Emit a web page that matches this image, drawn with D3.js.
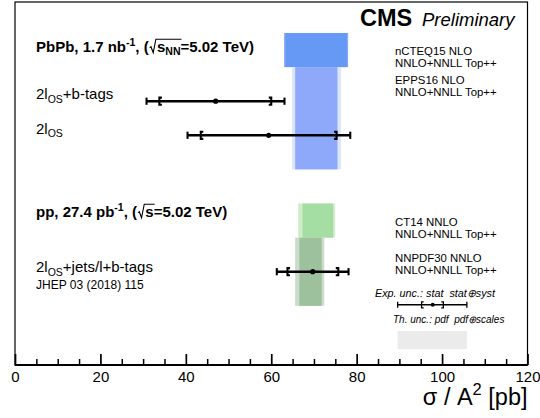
<!DOCTYPE html>
<html>
<head>
<meta charset="utf-8">
<script src="https://cdn.jsdelivr.net/npm/d3@7"></script>
<style>
  body { margin: 0; background: #fff; }
  text { font-family: "Liberation Sans", Arial, Helvetica, sans-serif; fill: #000; white-space: pre; }
</style>
</head>
<body>
<script>
// Measured cross sections, sigma / A^2 [pb]
const MEAS_ROW = [8, 7, 3];
const MEAS_CENTRAL = [47.0, 59.4, 69.7];
const MEAS_STAT_LO = [33.8, 43.5, 63.8];
const MEAS_STAT_HI = [60.0, 75.3, 75.7];
const MEAS_TOT_LO = [30.8, 40.4, 61.3];
const MEAS_TOT_HI = [63.1, 78.5, 78.1];

// Theory predictions (pdf band, pdf+scales band)
const TH_NAMES = ["nCTEQ15 NLO", "EPPS16 NLO", "CT14 NNLO", "NNPDF30 NNLO"];
const TH_ROW_LO = [9, 6, 4, 2];
const TH_ROW_HI = [10, 9, 5, 4];
const TH_PDF_LO = [63.3, 65.6, 67.3, 66.6];
const TH_PDF_HI = [77.7, 75.5, 74.5, 71.8];
const TH_TOT_LO = [63.0, 64.9, 66.3, 65.6];
const TH_TOT_HI = [78.0, 76.3, 74.9, 72.4];
const TH_LABEL_ROW = [9.36, 8.5, 4.33, 3.29];

// Legend sample: tot lo, stat lo, central, stat hi, tot hi
const LEG_EXP = [89.6, 95.2, 97.8, 100.3, 105.8];
const LEG_TH = [89.6, 105.8];

// Axis ticks
const X_MAJOR = [0, 20, 40, 60, 80, 100, 120];
const X_MINOR = d3.range(0, 121, 5).filter(d => d % 20 !== 0);

// Band colours (outer = pdf+scales, inner = pdf)
const COL_OUT = ["#86acf7", "#dbe4fd", "#cfedcb", "#c9dcc9"];
const COL_IN = ["#6699f5", "#8ea9fa", "#a4dea3", "#9dc09d"];

/* Dimensions */
const W = 540, H = 418;
const FRAME_L = 15, FRAME_R = 527.5, FRAME_T = 2, AXIS_Y = 365;

const svg = d3.select("body").append("svg")
  .attr("width", W).attr("height", H);

const x = d3.scaleLinear().domain([0, 120]).range([FRAME_L, FRAME_R]);
const y = d3.scaleLinear().domain([0.264, 10.909]).range([AXIS_Y, FRAME_T]);

// Rich text: pieces with sub/sup and an optional square-root sign
function rich(g, px, py, parts, o) {
  const s = o.size;
  const grp = g.append("g").attr("transform", `translate(${px},${py})`);
  let cx = 0, radStart = null;
  parts.forEach(p => {
    if (p.rad) { radStart = cx; cx += s * 0.55; return; }
    const small = p.sub || p.sup;
    const t = grp.append("text")
      .attr("x", cx)
      .attr("y", p.sub ? s * 0.22 : p.sup ? -s * 0.42 : 0)
      .attr("font-size", small ? s * 0.7 : s)
      .attr("font-weight", o.bold ? "bold" : null)
      .attr("font-style", o.italic ? "italic" : null)
      .text(p.t);
    cx += t.node().getComputedTextLength();
    if (p.endRad) {
      const top = -s * 0.86;
      grp.append("path")
        .attr("d", `M${radStart + 1},${-s * 0.3} L${radStart + s * 0.15},${-s * 0.36} L${radStart + s * 0.3},${s * 0.04} L${radStart + s * 0.48},${top} H${cx + 1}`)
        .attr("fill", "none").attr("stroke", "#000").attr("stroke-width", 1.1);
    }
  });
  if (o.anchor === "end") grp.attr("transform", `translate(${px - cx},${py})`);
  return cx;
}

// Theory bands
TH_NAMES.forEach((name, i) => {
  svg.append("rect")
    .attr("x", x(TH_TOT_LO[i])).attr("width", x(TH_TOT_HI[i]) - x(TH_TOT_LO[i]))
    .attr("y", y(TH_ROW_HI[i])).attr("height", y(TH_ROW_LO[i]) - y(TH_ROW_HI[i]))
    .attr("fill", COL_OUT[i]);
  svg.append("rect")
    .attr("x", x(TH_PDF_LO[i])).attr("width", x(TH_PDF_HI[i]) - x(TH_PDF_LO[i]))
    .attr("y", y(TH_ROW_HI[i])).attr("height", y(TH_ROW_LO[i]) - y(TH_ROW_HI[i]))
    .attr("fill", COL_IN[i]);
  const ly = y(TH_LABEL_ROW[i]);
  svg.append("text").attr("x", 395).attr("y", ly).attr("font-size", 11.4).text(name);
  svg.append("text").attr("x", 395).attr("y", ly + 12).attr("font-size", 11.4).text("NNLO+NNLL Top++");
});

// Error bar with outer caps and inner stat brackets
function errorBar(v, py, lw, cap, r) {
  const g = svg.append("g").attr("stroke", "#000").attr("fill", "none");
  g.append("line").attr("x1", x(v[0])).attr("x2", x(v[4])).attr("y1", py).attr("y2", py)
    .attr("stroke-width", lw);
  [v[0], v[4]].forEach(d => g.append("line")
    .attr("x1", x(d)).attr("x2", x(d)).attr("y1", py - cap).attr("y2", py + cap)
    .attr("stroke-width", lw * 0.8));
  const b = cap * 0.7;
  g.append("path").attr("stroke-width", lw * 0.8)
    .attr("d", `M${x(v[1]) + b},${py - cap} H${x(v[1])} V${py + cap} H${x(v[1]) + b}`);
  g.append("path").attr("stroke-width", lw * 0.8)
    .attr("d", `M${x(v[3]) - b},${py - cap} H${x(v[3])} V${py + cap} H${x(v[3]) - b}`);
  svg.append("circle").attr("cx", x(v[2])).attr("cy", py).attr("r", r).attr("fill", "#000");
}

MEAS_ROW.forEach((row, i) => {
  errorBar([MEAS_TOT_LO[i], MEAS_STAT_LO[i], MEAS_CENTRAL[i], MEAS_STAT_HI[i], MEAS_TOT_HI[i]],
    y(row), 2.6, 3.6, 2.6);
});

// Legend
svg.append("text").attr("x", 375).attr("y", y(2.26)).attr("font-size", 10.8)
  .attr("font-style", "italic").text("Exp. unc.: stat  stat\u2295syst");
errorBar(LEG_EXP, y(2.03), 1.6, 3, 2);
svg.append("text").attr("x", 393).attr("y", y(1.495)).attr("font-size", 10)
  .attr("font-style", "italic").text("Th. unc.: pdf  pdf\u2295scales");
svg.append("rect")
  .attr("x", x(LEG_TH[0])).attr("width", x(LEG_TH[1]) - x(LEG_TH[0]))
  .attr("y", y(1.26)).attr("height", y(0.73) - y(1.26))
  .attr("fill", "#ebebeb");

// Left-hand texts
rich(svg, 36, y(9.44), [
  { t: "PbPb, 1.7 nb" }, { t: "-1", sup: true }, { t: ", (" }, { rad: true },
  { t: "s" }, { t: "NN", sub: true, endRad: true }, { t: "=5.02 TeV)" }
], { size: 15, bold: true });
rich(svg, 36, y(8.05), [{ t: "2l" }, { t: "OS", sub: true }, { t: "+b-tags" }], { size: 15 });
rich(svg, 36, y(7.04), [{ t: "2l" }, { t: "OS", sub: true }], { size: 15 });
rich(svg, 36, y(4.6), [
  { t: "pp, 27.4 pb" }, { t: "-1", sup: true }, { t: ", (" }, { rad: true },
  { t: "s", endRad: true }, { t: "=5.02 TeV)" }
], { size: 15, bold: true });
rich(svg, 36, y(2.98), [{ t: "2l" }, { t: "OS", sub: true }, { t: "+jets/l+b-tags" }], { size: 15 });
svg.append("text").attr("x", 36).attr("y", y(2.49)).attr("font-size", 12).text("JHEP 03 (2018) 115");

// CMS label
svg.append("text").attr("x", 360).attr("y", 25.5).attr("font-size", 23.5)
  .attr("font-weight", "bold").text("CMS");
svg.append("text").attr("x", 422).attr("y", 25.5).attr("font-size", 18.5)
  .attr("font-style", "italic").text("Preliminary");

// Frame
svg.append("rect")
  .attr("x", FRAME_L).attr("y", FRAME_T)
  .attr("width", FRAME_R - FRAME_L).attr("height", AXIS_Y - FRAME_T)
  .attr("fill", "none").attr("stroke", "#000").attr("stroke-width", 1.2);

// X axis: major ticks with labels, minor ticks
const xAxis = svg.append("g").attr("transform", `translate(0,${AXIS_Y})`)
  .call(d3.axisBottom(x).tickValues(X_MAJOR).tickSizeInner(-11).tickSizeOuter(0)
    .tickPadding(6).tickFormat(d3.format("d")));
xAxis.select(".domain").remove();
xAxis.selectAll(".tick line").attr("stroke-width", 1.7);
xAxis.selectAll(".tick text").attr("font-size", 15)
  .attr("font-family", "'Liberation Sans', Arial, sans-serif");

const xMinor = svg.append("g").attr("transform", `translate(0,${AXIS_Y})`)
  .call(d3.axisBottom(x).tickValues(X_MINOR).tickSizeInner(-6).tickSizeOuter(0).tickFormat(""));
xMinor.select(".domain").remove();
xMinor.selectAll(".tick line").attr("stroke-width", 1.5);

svg.append("line").attr("x1", FRAME_L).attr("x2", FRAME_R)
  .attr("y1", AXIS_Y).attr("y2", AXIS_Y).attr("stroke", "#000").attr("stroke-width", 2);

// Axis title
rich(svg, FRAME_R, 405, [{ t: "\u03c3 / A" }, { t: "2", sup: true }, { t: " [pb]" }],
  { size: 23.5, anchor: "end" });
</script>
</body>
</html>
